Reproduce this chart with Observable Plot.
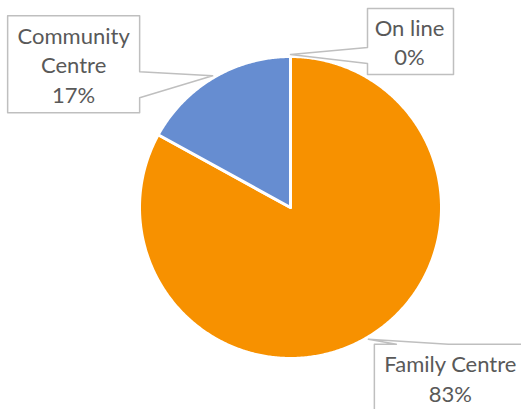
<!DOCTYPE html>
<html>
<head>
<meta charset="utf-8">
<script src="https://cdn.jsdelivr.net/npm/d3@7"></script>
<script src="https://cdn.jsdelivr.net/npm/@observablehq/plot@0.6"></script>
<style>
  html, body { margin: 0; padding: 0; background: #ffffff; }
</style>
</head>
<body>
<div id="chart"></div>
<script>
// ---- data ----
const categories = ["Family Centre", "Community Centre", "On line"];
const values = [83, 17, 0];
const percentLabels = ["83%", "17%", "0%"];
const sliceColors = ["#F79100", "#668DD1", "#A5A5A5"];

// ---- layout (pixels) ----
const W = 521, H = 409;
const cx = 290, cy = 207, R = 151;
const fontSize = 22, lineGap = 29.5;
// callout geometry relative to the leader point, in px (y down); text = [centre x, first baseline y]
const callouts = {
  "Family Centre": {
    box: [[6, 5], [28, 5], [0, 0], [80, 5], [170, 5], [170, 85], [6, 85]],
    text: [82, 33]
  },
  "Community Centre": {
    box: [[-205, -60], [-73, -60], [-73, -4], [0, 0], [-73, 22], [-73, 37], [-205, 37]],
    text: [-139, -32]
  },
  "On line": {
    box: [[77, -46], [163, -46], [163, 20], [77, 20], [77, 9], [0, 0], [77, -7]],
    text: [119, -19]
  }
};

// ---- geometry from data ----
const arcs = d3.pie().sort(null).value(d => d)(values);
const slicePts = [];
arcs.forEach((a, i) => {
  if (a.endAngle - a.startAngle <= 0) return;
  slicePts.push({name: categories[i], color: sliceColors[i], x: 0, y: 0});
  const n = Math.max(2, Math.ceil((a.endAngle - a.startAngle) / (Math.PI / 360)));
  for (let k = 0; k <= n; k++) {
    const t = a.startAngle + (a.endAngle - a.startAngle) * k / n;
    slicePts.push({name: categories[i], color: sliceColors[i], x: Math.sin(t), y: Math.cos(t)});
  }
});

const boxPts = [];
const labelRows = [];
// Plot's lineAnchor "top" puts the first baseline 0.71 * lineHeight em below y
const topShift = 0.71 * lineGap;
arcs.forEach((a, i) => {
  const mid = (a.startAngle + a.endAngle) / 2;
  const ax = 1.013 * Math.sin(mid), ay = 1.013 * Math.cos(mid);
  const c = callouts[categories[i]];
  c.box.forEach(([dx, dy]) => boxPts.push({name: categories[i], x: ax + dx / R, y: ay - dy / R}));
  const lines = categories[i] === "Community Centre"
    ? "Community\nCentre\n" + percentLabels[i]
    : categories[i] + "\n" + percentLabels[i];
  labelRows.push({name: categories[i], x: ax + c.text[0] / R, y: ay - (c.text[1] - topShift) / R, label: lines});
});

const chart = Plot.plot({
  width: W,
  height: H,
  margin: 0,
  style: {background: "#ffffff"},
  x: {domain: [-1, 1], range: [cx - R, cx + R], axis: null},
  y: {domain: [-1, 1], range: [cy + R, cy - R], axis: null},
  color: {type: "identity"},
  marks: [
    Plot.line(slicePts, {x: "x", y: "y", z: "name", fill: "color", stroke: "#ffffff", strokeWidth: 3, strokeLinejoin: "round", curve: "linear-closed"}),
    Plot.line(boxPts, {x: "x", y: "y", z: "name", fill: "#ffffff", stroke: "#BFBFBF", strokeWidth: 1.5, curve: "linear-closed"}),
    Plot.text(labelRows, {x: "x", y: "y", text: "label", textAnchor: "middle", lineAnchor: "top",
      fill: "#595959", fontFamily: "Lato", fontSize: fontSize, lineHeight: lineGap / fontSize})
  ]
});
document.getElementById("chart").appendChild(chart);
</script>
</body>
</html>
